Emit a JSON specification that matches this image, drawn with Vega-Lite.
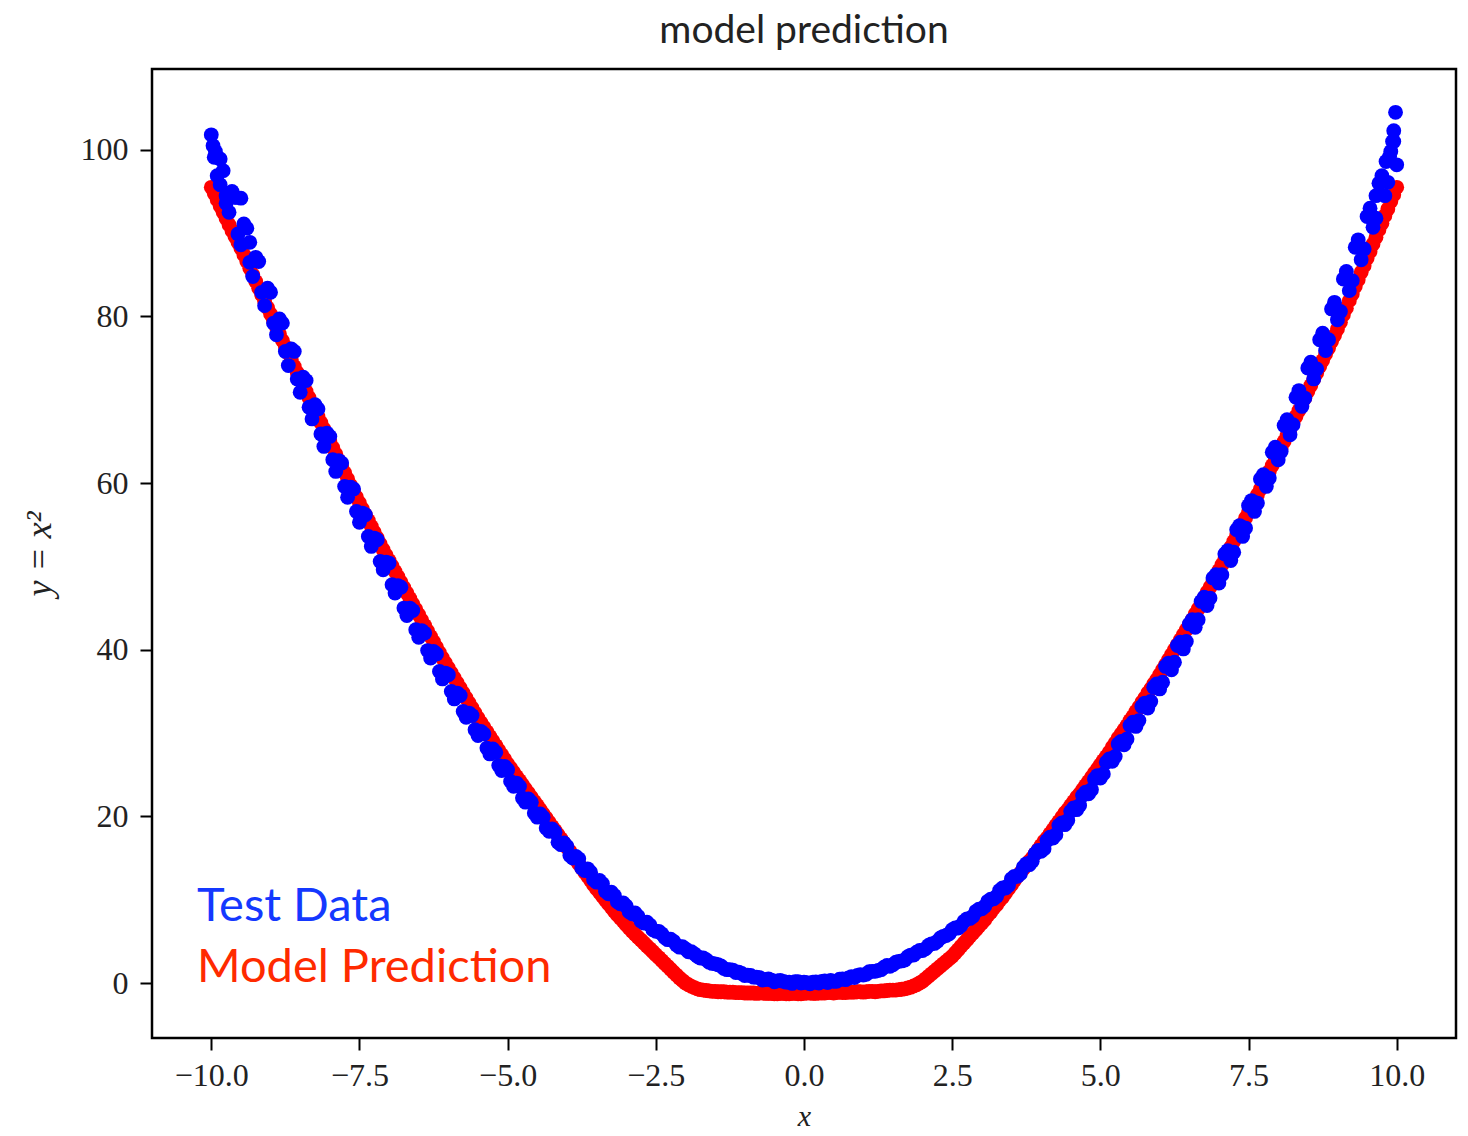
{
  "$schema": "https://vega.github.io/schema/vega-lite/v6.json",
  "width": 1304,
  "height": 969,
  "autosize": {"type": "none"},
  "padding": {"left": 152, "top": 69, "right": 12, "bottom": 98},
  "background": "white",
  "title": {"text": "model prediction", "font": "Lato", "fontSize": 39, "fontWeight": "normal", "color": "#222222", "offset": 18, "anchor": "middle"},
  "config": {
    "view": {"stroke": "#000000", "strokeWidth": 2.5},
    "axis": {
      "domain": false, "grid": false,
      "tickColor": "#000000", "tickWidth": 2, "tickSize": 12,
      "labelFont": "Liberation Serif", "labelFontSize": 32, "labelColor": "#222222",
      "titleFont": "Liberation Serif", "titleFontStyle": "italic", "titleFontWeight": "normal", "titleColor": "#222222"
    }
  },
  "data": {"values": [
    {"x":-10.0,"t":101.8,"p":95.5},{"x":-9.9,"t":96.9,"p":94.0},{"x":-9.8,"t":97.5,"p":92.5},{"x":-9.7,"t":92.5,"p":91.0},{"x":-9.6,"t":94.3,"p":89.6},
    {"x":-9.5,"t":88.6,"p":88.2},{"x":-9.4,"t":90.6,"p":86.6},{"x":-9.3,"t":84.8,"p":85.0},{"x":-9.2,"t":86.6,"p":83.4},{"x":-9.1,"t":81.3,"p":81.8},
    {"x":-9.0,"t":82.9,"p":80.3},{"x":-8.9,"t":77.8,"p":78.7},{"x":-8.8,"t":79.2,"p":77.1},{"x":-8.7,"t":74.1,"p":75.6},{"x":-8.6,"t":75.8,"p":74.0},
    {"x":-8.5,"t":70.9,"p":72.5},{"x":-8.4,"t":72.3,"p":71.0},{"x":-8.3,"t":67.7,"p":69.5},{"x":-8.2,"t":68.9,"p":68.0},{"x":-8.1,"t":64.4,"p":66.5},
    {"x":-8.0,"t":65.6,"p":65.0},{"x":-7.9,"t":61.4,"p":63.5},{"x":-7.8,"t":62.4,"p":62.0},{"x":-7.7,"t":58.3,"p":60.5},{"x":-7.6,"t":59.3,"p":59.0},
    {"x":-7.5,"t":55.3,"p":57.6},{"x":-7.4,"t":56.2,"p":56.2},{"x":-7.3,"t":52.4,"p":54.8},{"x":-7.2,"t":53.2,"p":53.4},{"x":-7.1,"t":49.6,"p":52.0},
    {"x":-7.0,"t":50.4,"p":50.7},{"x":-6.9,"t":46.8,"p":49.4},{"x":-6.8,"t":47.5,"p":48.1},{"x":-6.7,"t":44.1,"p":46.8},{"x":-6.6,"t":44.7,"p":45.5},
    {"x":-6.5,"t":41.5,"p":44.2},{"x":-6.4,"t":42.0,"p":42.9},{"x":-6.3,"t":39.0,"p":41.6},{"x":-6.2,"t":39.5,"p":40.3},{"x":-6.1,"t":36.5,"p":39.0},
    {"x":-6.0,"t":37.0,"p":37.8},{"x":-5.9,"t":34.1,"p":36.6},{"x":-5.8,"t":34.5,"p":35.4},{"x":-5.7,"t":31.9,"p":34.2},{"x":-5.6,"t":32.1,"p":33.0},
    {"x":-5.5,"t":29.7,"p":31.8},{"x":-5.4,"t":29.9,"p":30.7},{"x":-5.3,"t":27.5,"p":29.6},{"x":-5.2,"t":27.7,"p":28.5},{"x":-5.1,"t":25.5,"p":27.4},
    {"x":-5.0,"t":25.6,"p":26.3},{"x":-4.9,"t":23.6,"p":25.3},{"x":-4.8,"t":23.6,"p":24.3},{"x":-4.7,"t":21.7,"p":23.3},{"x":-4.6,"t":21.7,"p":22.3},
    {"x":-4.5,"t":19.9,"p":21.3},{"x":-4.4,"t":19.9,"p":20.3},{"x":-4.3,"t":18.2,"p":19.3},{"x":-4.2,"t":18.1,"p":18.3},{"x":-4.1,"t":16.6,"p":17.3},
    {"x":-4.0,"t":16.4,"p":16.3},{"x":-3.9,"t":15.0,"p":15.3},{"x":-3.8,"t":14.9,"p":14.3},{"x":-3.7,"t":13.5,"p":13.3},{"x":-3.6,"t":13.3,"p":12.3},
    {"x":-3.5,"t":12.1,"p":11.3},{"x":-3.4,"t":11.9,"p":10.4},{"x":-3.3,"t":10.7,"p":9.5},{"x":-3.2,"t":10.5,"p":8.6},{"x":-3.1,"t":9.5,"p":7.8},
    {"x":-3.0,"t":9.25,"p":7.0},{"x":-2.9,"t":8.3,"p":6.2},{"x":-2.8,"t":8.0,"p":5.5},{"x":-2.7,"t":7.2,"p":4.8},{"x":-2.6,"t":6.95,"p":4.1},
    {"x":-2.5,"t":6.2,"p":3.4},{"x":-2.4,"t":5.9,"p":2.7},{"x":-2.3,"t":5.2,"p":2.0},{"x":-2.2,"t":5.0,"p":1.3},{"x":-2.1,"t":4.3,"p":0.6},
    {"x":-2.0,"t":4.1,"p":0.0},{"x":-1.9,"t":3.75,"p":-0.4},{"x":-1.8,"t":3.2,"p":-0.7},{"x":-1.7,"t":3.0,"p":-0.85},{"x":-1.6,"t":2.5,"p":-0.95},
    {"x":-1.5,"t":2.3,"p":-1.0},{"x":-1.4,"t":2.05,"p":-1.05},{"x":-1.3,"t":1.6,"p":-1.1},{"x":-1.2,"t":1.55,"p":-1.1},{"x":-1.1,"t":1.3,"p":-1.15},
    {"x":-1.0,"t":0.9,"p":-1.2},{"x":-0.9,"t":0.9,"p":-1.2},{"x":-0.8,"t":0.7,"p":-1.25},{"x":-0.7,"t":0.35,"p":-1.2},{"x":-0.6,"t":0.5,"p":-1.25},
    {"x":-0.5,"t":0.15,"p":-1.3},{"x":-0.4,"t":0.3,"p":-1.25},{"x":-0.3,"t":0.1,"p":-1.3},{"x":-0.2,"t":-0.05,"p":-1.25},{"x":-0.1,"t":0.15,"p":-1.3},
    {"x":0.0,"t":0.1,"p":-1.25},{"x":0.1,"t":-0.1,"p":-1.2},{"x":0.2,"t":0.12,"p":-1.25},{"x":0.3,"t":0.2,"p":-1.2},{"x":0.4,"t":0.05,"p":-1.15},
    {"x":0.5,"t":0.2,"p":-1.2},{"x":0.6,"t":0.45,"p":-1.1},{"x":0.7,"t":0.4,"p":-1.15},{"x":0.8,"t":0.75,"p":-1.1},{"x":0.9,"t":0.9,"p":-1.05},
    {"x":1.0,"t":0.95,"p":-1.1},{"x":1.1,"t":1.35,"p":-1.0},{"x":1.2,"t":1.4,"p":-1.05},{"x":1.3,"t":1.6,"p":-0.95},{"x":1.4,"t":2.1,"p":-0.9},
    {"x":1.5,"t":2.2,"p":-0.85},{"x":1.6,"t":2.6,"p":-0.8},{"x":1.7,"t":2.75,"p":-0.7},{"x":1.8,"t":3.35,"p":-0.5},{"x":1.9,"t":3.7,"p":-0.2},
    {"x":2.0,"t":3.9,"p":0.2},{"x":2.1,"t":4.5,"p":0.8},{"x":2.2,"t":4.75,"p":1.4},{"x":2.3,"t":5.4,"p":2.0},{"x":2.4,"t":5.7,"p":2.6},
    {"x":2.5,"t":6.4,"p":3.2},{"x":2.6,"t":6.6,"p":4.0},{"x":2.7,"t":7.4,"p":4.8},{"x":2.8,"t":7.75,"p":5.6},{"x":2.9,"t":8.6,"p":6.4},
    {"x":3.0,"t":8.9,"p":7.2},{"x":3.1,"t":9.8,"p":8.1},{"x":3.2,"t":10.1,"p":9.0},{"x":3.3,"t":11.1,"p":9.9},{"x":3.4,"t":11.4,"p":10.8},
    {"x":3.5,"t":12.5,"p":11.8},{"x":3.6,"t":12.8,"p":12.8},{"x":3.7,"t":13.9,"p":13.7},{"x":3.8,"t":14.2,"p":14.6},{"x":3.9,"t":15.5,"p":15.5},
    {"x":4.0,"t":15.8,"p":16.5},{"x":4.1,"t":17.1,"p":17.4},{"x":4.2,"t":17.4,"p":18.4},{"x":4.3,"t":18.9,"p":19.4},{"x":4.4,"t":19.0,"p":20.4},
    {"x":4.5,"t":20.6,"p":21.3},{"x":4.6,"t":20.8,"p":22.3},{"x":4.7,"t":22.5,"p":23.2},{"x":4.8,"t":22.7,"p":24.2},{"x":4.9,"t":24.5,"p":25.2},
    {"x":5.0,"t":24.6,"p":26.2},{"x":5.1,"t":26.5,"p":27.2},{"x":5.2,"t":26.6,"p":28.3},{"x":5.3,"t":28.7,"p":29.4},{"x":5.4,"t":28.6,"p":30.4},
    {"x":5.5,"t":30.9,"p":31.5},{"x":5.6,"t":30.8,"p":32.6},{"x":5.7,"t":33.2,"p":33.7},{"x":5.8,"t":33.0,"p":34.8},{"x":5.9,"t":35.5,"p":35.9},
    {"x":6.0,"t":35.3,"p":37.0},{"x":6.1,"t":38.0,"p":38.2},{"x":6.2,"t":37.6,"p":39.4},{"x":6.3,"t":40.5,"p":40.6},{"x":6.4,"t":40.1,"p":41.8},
    {"x":6.5,"t":43.1,"p":43.0},{"x":6.6,"t":42.7,"p":44.3},{"x":6.7,"t":45.8,"p":45.6},{"x":6.8,"t":45.3,"p":46.9},{"x":6.9,"t":48.6,"p":48.2},
    {"x":7.0,"t":48.0,"p":49.5},{"x":7.1,"t":51.5,"p":50.9},{"x":7.2,"t":50.7,"p":52.3},{"x":7.3,"t":54.4,"p":53.7},{"x":7.4,"t":53.6,"p":55.1},
    {"x":7.5,"t":57.3,"p":56.5},{"x":7.6,"t":56.6,"p":57.9},{"x":7.7,"t":60.5,"p":59.3},{"x":7.8,"t":59.6,"p":60.7},{"x":7.9,"t":63.7,"p":62.1},
    {"x":8.0,"t":62.8,"p":63.5},{"x":8.1,"t":66.9,"p":65.0},{"x":8.2,"t":65.8,"p":66.5},{"x":8.3,"t":70.3,"p":68.0},{"x":8.4,"t":69.2,"p":69.5},
    {"x":8.5,"t":73.8,"p":71.0},{"x":8.6,"t":72.5,"p":72.5},{"x":8.7,"t":77.2,"p":74.0},{"x":8.8,"t":75.9,"p":75.5},{"x":8.9,"t":80.9,"p":77.0},
    {"x":9.0,"t":79.6,"p":78.5},{"x":9.1,"t":84.5,"p":80.2},{"x":9.2,"t":83.1,"p":81.9},{"x":9.3,"t":88.3,"p":83.6},{"x":9.4,"t":86.8,"p":85.3},
    {"x":9.5,"t":92.0,"p":87.0},{"x":9.6,"t":90.7,"p":88.7},{"x":9.7,"t":96.0,"p":90.4},{"x":9.8,"t":94.5,"p":92.1},{"x":9.9,"t":99.8,"p":93.8},
    {"x":10.0,"t":98.2,"p":95.5},
    {"x":0.05,"t":0.05,"p":-1.2},{"x":0.15,"t":0.1,"p":-1.25},{"x":0.25,"t":0.0,"p":-1.2},{"x":0.35,"t":0.25,"p":-1.2},{"x":0.45,"t":0.3,"p":-1.15},
    {"x":0.55,"t":0.2,"p":-1.15},{"x":0.65,"t":0.5,"p":-1.15},{"x":0.75,"t":0.6,"p":-1.1},{"x":0.85,"t":0.65,"p":-1.1},{"x":0.95,"t":1.0,"p":-1.05},
    {"x":1.05,"t":1.05,"p":-1.05},{"x":1.15,"t":1.4,"p":-1.0},{"x":1.25,"t":1.5,"p":-1.0},{"x":1.35,"t":1.9,"p":-0.95},{"x":1.45,"t":2.0,"p":-0.85},
    {"x":1.55,"t":2.5,"p":-0.85},{"x":1.65,"t":2.65,"p":-0.75},{"x":1.75,"t":3.15,"p":-0.6},{"x":1.85,"t":3.35,"p":-0.35},{"x":1.95,"t":3.9,"p":0.0},
    {"x":2.05,"t":4.1,"p":0.5},{"x":2.15,"t":4.7,"p":1.1},{"x":2.25,"t":5.0,"p":1.7},{"x":2.35,"t":5.6,"p":2.3},{"x":2.45,"t":5.9,"p":2.9},
    {"x":2.55,"t":6.6,"p":3.6},{"x":2.65,"t":6.9,"p":4.4},{"x":2.75,"t":7.7,"p":5.2},{"x":2.85,"t":8.0,"p":6.0},{"x":2.95,"t":8.85,"p":6.8},
    {"x":3.05,"t":9.2,"p":7.6},{"x":3.15,"t":10.05,"p":8.5},{"x":3.25,"t":10.4,"p":9.4},{"x":3.35,"t":11.4,"p":10.3},{"x":3.45,"t":11.7,"p":11.3},
    {"x":3.55,"t":12.8,"p":12.3},{"x":3.65,"t":13.1,"p":13.2},{"x":3.75,"t":14.3,"p":14.1},{"x":3.85,"t":14.6,"p":15.0},{"x":3.95,"t":15.9,"p":16.0},
    {"x":4.05,"t":16.1,"p":17.0},{"x":4.15,"t":17.5,"p":17.9},{"x":4.25,"t":17.8,"p":18.9},{"x":4.35,"t":19.2,"p":19.9},{"x":4.45,"t":19.5,"p":20.8},
    {"x":4.55,"t":21.0,"p":21.8},{"x":4.65,"t":21.3,"p":22.7},{"x":4.75,"t":22.9,"p":23.7},{"x":4.85,"t":23.2,"p":24.7},{"x":4.95,"t":24.9,"p":25.7},
    {"x":5.05,"t":25.1,"p":26.7},{"x":5.15,"t":26.9,"p":27.7},{"x":5.25,"t":27.2,"p":28.8},{"x":5.35,"t":29.0,"p":29.9},{"x":5.45,"t":29.3,"p":30.9},
    {"x":5.55,"t":31.3,"p":32.0},{"x":5.65,"t":31.5,"p":33.1},{"x":5.75,"t":33.6,"p":34.2},{"x":5.85,"t":33.8,"p":35.3},{"x":5.95,"t":35.9,"p":36.4},
    {"x":6.05,"t":36.1,"p":37.6},{"x":6.15,"t":38.4,"p":38.8},{"x":6.25,"t":38.5,"p":40.0},{"x":6.35,"t":40.9,"p":41.2},{"x":6.45,"t":41.0,"p":42.4},
    {"x":6.55,"t":43.6,"p":43.6},{"x":6.65,"t":43.6,"p":44.9},{"x":6.75,"t":46.3,"p":46.2},{"x":6.85,"t":46.2,"p":47.5},{"x":6.95,"t":49.0,"p":48.8},
    {"x":7.05,"t":49.0,"p":50.2},{"x":7.15,"t":51.9,"p":51.6},{"x":7.25,"t":51.7,"p":53.0},{"x":7.35,"t":54.9,"p":54.4},{"x":7.45,"t":54.6,"p":55.8},
    {"x":7.55,"t":57.9,"p":57.2},{"x":7.65,"t":57.6,"p":58.6},{"x":7.75,"t":61.0,"p":60.0},{"x":7.85,"t":60.6,"p":61.4},{"x":7.95,"t":64.3,"p":62.8},
    {"x":8.05,"t":63.8,"p":64.2},{"x":8.15,"t":67.6,"p":65.7},{"x":8.25,"t":67.0,"p":67.2},{"x":8.35,"t":71.1,"p":68.7},{"x":8.45,"t":70.2,"p":70.2},
    {"x":8.55,"t":74.5,"p":71.7},{"x":8.65,"t":73.7,"p":73.2},{"x":8.75,"t":78.0,"p":74.7},{"x":8.85,"t":77.2,"p":76.2},{"x":8.95,"t":81.7,"p":77.7},
    {"x":9.05,"t":80.6,"p":79.3},{"x":9.15,"t":85.4,"p":81.0},{"x":9.25,"t":84.3,"p":82.7},{"x":9.35,"t":89.2,"p":84.4},{"x":9.45,"t":88.1,"p":86.1},
    {"x":9.55,"t":93.0,"p":87.8},{"x":9.65,"t":91.8,"p":89.5},{"x":9.75,"t":96.9,"p":91.2},{"x":9.85,"t":96.1,"p":92.9},{"x":9.95,"t":101.0,"p":94.6},
    {"x":-0.05,"t":0.0,"p":-1.3},{"x":-0.15,"t":0.15,"p":-1.25},{"x":-0.25,"t":0.1,"p":-1.3},{"x":-0.35,"t":0.2,"p":-1.25},{"x":-0.45,"t":0.25,"p":-1.3},
    {"x":-0.55,"t":0.35,"p":-1.25},{"x":-0.65,"t":0.4,"p":-1.25},{"x":-0.75,"t":0.65,"p":-1.2},{"x":-0.85,"t":0.7,"p":-1.2},{"x":-0.95,"t":0.95,"p":-1.2},
    {"x":-1.05,"t":1.15,"p":-1.15},{"x":-1.15,"t":1.25,"p":-1.15},{"x":-1.25,"t":1.6,"p":-1.1},{"x":-1.35,"t":1.75,"p":-1.05},{"x":-1.45,"t":2.2,"p":-1.05},
    {"x":-1.55,"t":2.35,"p":-1.0},{"x":-1.65,"t":2.8,"p":-0.9},{"x":-1.75,"t":3.0,"p":-0.8},{"x":-1.85,"t":3.5,"p":-0.55},{"x":-1.95,"t":3.75,"p":-0.2},
    {"x":-2.05,"t":4.35,"p":0.3},{"x":-2.15,"t":4.55,"p":0.95},{"x":-2.25,"t":5.25,"p":1.65},{"x":-2.35,"t":5.45,"p":2.35},{"x":-2.45,"t":6.2,"p":3.05},
    {"x":-2.55,"t":6.4,"p":3.75},{"x":-2.65,"t":7.3,"p":4.45},{"x":-2.75,"t":7.45,"p":5.15},{"x":-2.85,"t":8.4,"p":5.85},{"x":-2.95,"t":8.55,"p":6.6},
    {"x":-3.05,"t":9.6,"p":7.4},{"x":-3.15,"t":9.75,"p":8.2},{"x":-3.25,"t":10.9,"p":9.05},{"x":-3.35,"t":11.0,"p":9.95},{"x":-3.45,"t":12.3,"p":10.85},
    {"x":-3.55,"t":12.4,"p":11.8},{"x":-3.65,"t":13.7,"p":12.8},{"x":-3.75,"t":13.8,"p":13.8},{"x":-3.85,"t":15.2,"p":14.8},{"x":-3.95,"t":15.3,"p":15.8},
    {"x":-4.05,"t":16.8,"p":16.8},{"x":-4.15,"t":16.9,"p":17.8},{"x":-4.25,"t":18.5,"p":18.8},{"x":-4.35,"t":18.6,"p":19.8},{"x":-4.45,"t":20.3,"p":20.8},
    {"x":-4.55,"t":20.4,"p":21.8},{"x":-4.65,"t":22.1,"p":22.8},{"x":-4.75,"t":22.2,"p":23.8},{"x":-4.85,"t":24.0,"p":24.8},{"x":-4.95,"t":24.2,"p":25.8},
    {"x":-5.05,"t":26.0,"p":26.85},{"x":-5.15,"t":26.1,"p":27.95},{"x":-5.25,"t":28.1,"p":29.05},{"x":-5.35,"t":28.2,"p":30.15},{"x":-5.45,"t":30.2,"p":31.25},
    {"x":-5.55,"t":30.4,"p":32.4},{"x":-5.65,"t":32.4,"p":33.6},{"x":-5.75,"t":32.6,"p":34.8},{"x":-5.85,"t":34.8,"p":36.0},{"x":-5.95,"t":35.0,"p":37.2},
    {"x":-6.05,"t":37.2,"p":38.4},{"x":-6.15,"t":37.4,"p":39.65},{"x":-6.25,"t":39.8,"p":40.95},{"x":-6.35,"t":39.9,"p":42.25},{"x":-6.45,"t":42.3,"p":43.55},
    {"x":-6.55,"t":42.4,"p":44.85},{"x":-6.65,"t":45.0,"p":46.15},{"x":-6.75,"t":45.0,"p":47.45},{"x":-6.85,"t":47.7,"p":48.75},{"x":-6.95,"t":47.8,"p":50.05},
    {"x":-7.05,"t":50.5,"p":51.35},{"x":-7.15,"t":50.6,"p":52.7},{"x":-7.25,"t":53.4,"p":54.1},{"x":-7.35,"t":53.6,"p":55.5},{"x":-7.45,"t":56.4,"p":56.9},
    {"x":-7.55,"t":56.6,"p":58.3},{"x":-7.65,"t":59.5,"p":59.75},{"x":-7.75,"t":59.6,"p":61.25},{"x":-7.85,"t":62.7,"p":62.75},{"x":-7.95,"t":62.8,"p":64.25},
    {"x":-8.05,"t":66.0,"p":65.75},{"x":-8.15,"t":65.9,"p":67.25},{"x":-8.25,"t":69.4,"p":68.75},{"x":-8.35,"t":69.1,"p":70.25},{"x":-8.45,"t":72.7,"p":71.75},
    {"x":-8.55,"t":72.5,"p":73.25},{"x":-8.65,"t":76.1,"p":74.8},{"x":-8.75,"t":75.8,"p":76.35},{"x":-8.85,"t":79.7,"p":77.9},{"x":-8.95,"t":79.2,"p":79.5},
    {"x":-9.05,"t":83.4,"p":81.05},{"x":-9.15,"t":82.9,"p":82.6},{"x":-9.25,"t":87.1,"p":84.2},{"x":-9.35,"t":86.5,"p":85.8},{"x":-9.45,"t":91.1,"p":87.4},
    {"x":-9.55,"t":89.9,"p":88.9},{"x":-9.65,"t":95.0,"p":90.3},{"x":-9.75,"t":93.6,"p":91.75},{"x":-9.85,"t":98.9,"p":93.25},{"x":-9.95,"t":99.1,"p":94.75},
    {"x":-9.97,"t":100.5},{"x":-9.93,"t":99.8},{"x":-9.85,"t":95.8},{"x":-9.75,"t":94.5},{"x":-9.58,"t":94.3},{"x":-9.5,"t":94.2},{"x":-9.35,"t":88.9},
    {"x":9.98,"t":104.5},{"x":9.95,"t":102.3},{"x":9.93,"t":101.0},{"x":9.88,"t":99.2},{"x":9.82,"t":98.6},{"x":9.75,"t":96.2},{"x":9.65,"t":94.5}
  ]},
  "layer": [
    {
      "mark": {"type": "circle", "color": "#ff0000", "size": 220, "opacity": 1},
      "encoding": {
        "x": {"field": "x", "type": "quantitative", "scale": {"domain": [-11, 11], "nice": false, "zero": false},
              "axis": {"title": "x", "titleFontSize": 30, "values": [-10, -7.5, -5, -2.5, 0, 2.5, 5, 7.5, 10], "format": ".1f", "labelPadding": 10, "titlePadding": 10}},
        "y": {"field": "p", "type": "quantitative", "scale": {"domain": [-6.6, 109.7], "nice": false, "zero": false},
              "axis": {"title": "y = x²", "titleFontSize": 36, "values": [0, 20, 40, 60, 80, 100], "format": "d", "labelPadding": 12, "titlePadding": 22}}
      }
    },
    {
      "mark": {"type": "circle", "color": "#0000ff", "size": 220, "opacity": 1},
      "encoding": {
        "x": {"field": "x", "type": "quantitative"},
        "y": {"field": "t", "type": "quantitative"}
      }
    },
    {
      "data": {"values": [
        {"label": "Test Data", "lx": -10.24, "ly": 7.4},
        {"label": "Model Prediction", "lx": -10.24, "ly": 0.1}
      ]},
      "mark": {"type": "text", "align": "left", "baseline": "alphabetic", "font": "Lato", "fontSize": 47},
      "encoding": {
        "x": {"field": "lx", "type": "quantitative"},
        "y": {"field": "ly", "type": "quantitative"},
        "text": {"field": "label"},
        "color": {"field": "label", "type": "nominal", "scale": {"domain": ["Test Data", "Model Prediction"], "range": ["#1438ff", "#ff2a00"]}, "legend": null}
      }
    }
  ]
}
